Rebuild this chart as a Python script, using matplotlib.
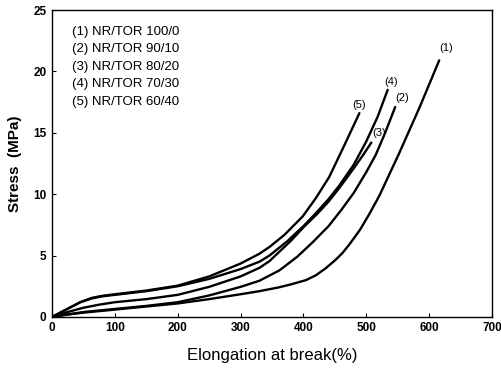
import matplotlib
matplotlib.use('Agg')
import matplotlib.pyplot as plt

# stress-strain curves (elongation %, stress MPa)
x1 = [0, 25, 50, 100, 150, 200, 250, 300, 330, 360, 380, 404, 420, 435, 450, 462, 473,
      490, 505, 521, 552, 585, 616]
y1 = [0, 0.2, 0.35, 0.6, 0.85, 1.1, 1.45, 1.85, 2.1, 2.4, 2.65, 3.0, 3.4, 3.95, 4.6, 5.2, 5.9,
      7.1, 8.4, 9.9, 13.3, 17.1, 20.9]

x2 = [0, 25, 50, 100, 150, 200, 250, 300, 330, 362, 390, 415, 440, 460, 480, 500, 515, 530, 546]
y2 = [0, 0.2, 0.4, 0.65, 0.9, 1.2, 1.75, 2.45, 2.95, 3.8, 4.9, 6.1, 7.4, 8.7, 10.1, 11.8, 13.2, 15.0, 17.1]

x3 = [0, 25, 50, 75, 100, 150, 200, 250, 300, 330, 346, 380, 400, 422, 440, 457, 480, 495, 508]
y3 = [0, 0.4, 0.75, 1.0, 1.2, 1.45, 1.8, 2.45, 3.3, 4.0, 4.55, 6.2, 7.3, 8.4, 9.4, 10.5, 12.1, 13.2, 14.2]

x4 = [0, 15, 30, 45, 63, 80, 100, 150, 200, 250, 300, 330, 346, 375, 400, 417, 440, 457, 480,
      500, 518, 534]
y4 = [0, 0.4, 0.8, 1.2, 1.5, 1.68, 1.8, 2.1, 2.5, 3.1, 3.9, 4.5, 5.0, 6.2, 7.4, 8.3, 9.6, 10.7, 12.4,
      14.3, 16.3, 18.5]

x5 = [0, 15, 30, 45, 63, 80, 100, 150, 200, 250, 300, 330, 346, 370, 399, 420, 441, 455, 468, 489]
y5 = [0, 0.4, 0.8, 1.2, 1.55, 1.72, 1.85, 2.15, 2.55, 3.3, 4.35, 5.15, 5.7, 6.7, 8.2, 9.7, 11.4,
      12.9, 14.3, 16.6]

curves = [(x1, y1), (x2, y2), (x3, y3), (x4, y4), (x5, y5)]
legend_lines = ['(1) NR/TOR 100/0', '(2) NR/TOR 90/10', '(3) NR/TOR 80/20',
                '(4) NR/TOR 70/30', '(5) NR/TOR 60/40']
curve_tags = ['(1)', '(2)', '(3)', '(4)', '(5)']
tag_pos = [(627, 21.9), (557, 17.8), (520, 15.0), (540, 19.1), (489, 17.3)]

plt.rcParams['font.family'] = ['Liberation Sans', 'DejaVu Sans']

fig = plt.figure(figsize=(5.02, 3.72), dpi=100)
ax = fig.add_axes([0.1036, 0.148, 0.8765, 0.825])

for xs, ys in curves:
    ax.plot(xs, ys, color='black', lw=1.7, solid_capstyle='round', solid_joinstyle='round')

for tag, (tx, ty) in zip(curve_tags, tag_pos):
    ax.text(tx, ty, tag, fontsize=8, ha='center', va='center')

for i, line in enumerate(legend_lines):
    ax.text(0.045, 0.93 - i * 0.0575, line, fontsize=9.5, transform=ax.transAxes,
            ha='left', va='center')

ax.set_xlim(0, 700)
ax.set_ylim(0, 25)
ax.set_xticks(range(0, 701, 100))
ax.set_yticks(range(0, 26, 5))
ax.tick_params(direction='in', length=3, width=0.8, labelsize=8.5, pad=4)
for lab in ax.get_xticklabels() + ax.get_yticklabels():
    lab.set_fontweight('bold')
for sp in ax.spines.values():
    sp.set_linewidth(1.0)

ax.set_xlabel('Elongation at break(%)', fontsize=12, labelpad=10)
ax.set_ylabel('Stress  (MPa)', fontsize=11, fontweight='bold', labelpad=8)

fig.savefig('out.png', dpi=100)
